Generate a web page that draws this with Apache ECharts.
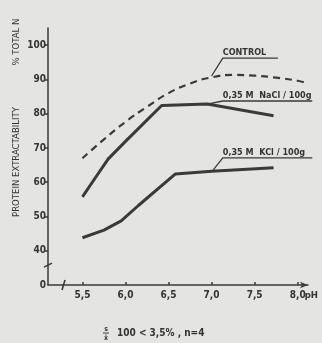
<!DOCTYPE html>
<html>
<head>
<meta charset="utf-8">
<script src="https://cdn.jsdelivr.net/npm/echarts@6/dist/echarts.min.js"></script>
<style>
  html, body { margin: 0; padding: 0; background: #e4e4e2; }
  #main { width: 322px; height: 343px; }
</style>
</head>
<body>
<div id="main"></div>
<script>
// values (pH, % total N)
var controlData = [[5.5, 67], [5.75, 72.5], [6.0, 77.6], [6.25, 82], [6.5, 86], [6.75, 88.8],
	[7.0, 90.6], [7.25, 91.3], [7.5, 91.1], [7.75, 90.5], [8.0, 89.6], [8.12, 88.8]];
var naclData = [[5.5, 55.7], [5.65, 61.3], [5.8, 66.8], [6.0, 71.9], [6.42, 82.4], [6.95, 82.8], [7.72, 79.4]];
var kclData = [[5.5, 43.8], [5.75, 46], [5.95, 48.7], [6.15, 53.2], [6.58, 62.4], [7.0, 63.2], [7.72, 64.2]];

var xTicks = [5.5, 6.0, 6.5, 7.0, 7.5, 8.0];
var yTicks = [40, 50, 60, 70, 80, 90, 100];
var yLabels = [30, 40, 50, 60, 70, 80, 90, 100];

var ink = '#3a3a3a';
var font = '"DejaVu Sans Condensed", "Liberation Sans Narrow", sans-serif';

var chart = echarts.init(document.getElementById('main'));

var option = {
	backgroundColor: '#e4e4e2',
	animation: false,
	grid: { left: 48, top: 28, width: 260, height: 257, containLabel: false },
	xAxis: {
		type: 'value',
		min: 5.1,
		max: 8.12,
		axisLine: { show: true, lineStyle: { color: ink, width: 1.5 }, symbol: ['none', 'arrow'], symbolSize: [5, 8] },
		axisTick: { show: true, inside: true, length: 3, customValues: xTicks, lineStyle: { color: ink, width: 1.5 } },
		axisLabel: {
			customValues: xTicks,
			margin: 5,
			color: '#333',
			fontFamily: font,
			fontWeight: 'bold',
			fontSize: 10,
			formatter: function(v) { return v.toFixed(1).replace('.', ','); }
		},
		splitLine: { show: false }
	},
	yAxis: {
		type: 'value',
		min: 30,
		max: 105,
		axisLine: { show: true, lineStyle: { color: ink, width: 1.5 } },
		axisTick: { show: true, length: 3, customValues: yTicks, lineStyle: { color: ink, width: 1.5 } },
		axisLabel: {
			customValues: yLabels,
			margin: 2,
			color: '#333',
			fontFamily: font,
			fontWeight: 'bold',
			fontSize: 10,
			formatter: function(v) { return v === 30 ? '0' : String(v); }
		},
		splitLine: { show: false }
	},
	series: [
		{
			type: 'line', name: 'CONTROL', data: controlData, smooth: true, symbol: 'none',
			lineStyle: { color: ink, width: 2.2, type: [7, 5] }
		},
		{
			type: 'line', name: 'NaCl', data: naclData, smooth: false, symbol: 'none',
			lineStyle: { color: ink, width: 3 }
		},
		{
			type: 'line', name: 'KCl', data: kclData, smooth: false, symbol: 'none',
			lineStyle: { color: ink, width: 3 }
		}
	]
};
chart.setOption(option);

function px(x, y) {
	return chart.convertToPixel({ gridIndex: 0 }, [x, y]);
}

function seg(points, w) {
	return {
		type: 'polyline',
		shape: { points: points },
		style: { stroke: ink, lineWidth: w || 1.3, fill: null }
	};
}

function label(text, p) {
	return {
		type: 'text',
		x: p[0], y: p[1],
		style: { text: text, fill: '#333', font: 'bold 9px ' + font, textAlign: 'left', textVerticalAlign: 'bottom' }
	};
}

var ctrlA = px(7.13, 96.2), ctrlB = px(7.77, 96.2), ctrlC = px(7.0, 91.0);
var naA = px(6.95, 82.8), naB = px(7.13, 83.7), naC = px(8.17, 83.7);
var kA = px(7.13, 67.1), kB = px(8.17, 67.1), kC = px(7.02, 63.6);
var yBreak = px(5.1, 35.8), xBreak = px(5.28, 30);
var phPos = px(8.0, 30);

var graphics = [
	seg([ctrlC, ctrlA, ctrlB]),
	label('CONTROL', [ctrlA[0], ctrlA[1] - 1]),
	seg([naA, naB, naC]),
	label('0,35 M  NaCl / 100g', [naB[0], naB[1] - 1]),
	seg([kC, kA, kB]),
	label('0,35 M  KCl / 100g', [kA[0], kA[1] - 1]),
	seg([[yBreak[0] - 4, yBreak[1] + 2], [yBreak[0] + 4, yBreak[1] - 2]], 1.6),
	seg([[xBreak[0] - 1.5, xBreak[1] + 5], [xBreak[0] + 1.5, xBreak[1] - 5]], 1.6),
	{
		type: 'text', x: phPos[0] + 7, y: phPos[1] + 11,
		style: { text: 'pH', fill: '#333', font: 'bold 9.5px ' + font, textAlign: 'left', textVerticalAlign: 'middle' }
	},
	{
		type: 'text', x: 17, y: 162, rotation: Math.PI / 2,
		style: { text: 'PROTEIN EXTRACTABILITY', fill: '#333', font: '9.5px ' + font, textAlign: 'center', textVerticalAlign: 'middle' }
	},
	{
		type: 'text', x: 17, y: 42, rotation: Math.PI / 2,
		style: { text: '% TOTAL N', fill: '#333', font: '9.5px ' + font, textAlign: 'center', textVerticalAlign: 'middle' }
	},
	// footnote: s / x̄ · 100 < 3,5 %, n=4
	{
		type: 'text', x: 106, y: 329,
		style: { text: 's', fill: '#333', font: 'bold 7px ' + font, textAlign: 'center', textVerticalAlign: 'middle' }
	},
	seg([[103, 333], [109, 333]], 1),
	{
		type: 'text', x: 106, y: 338,
		style: { text: 'x̄', fill: '#333', font: 'bold 7px ' + font, textAlign: 'center', textVerticalAlign: 'middle' }
	},
	{
		type: 'text', x: 117, y: 333,
		style: { text: '100 < 3,5% , n=4', fill: '#333', font: 'bold 10px ' + font, textAlign: 'left', textVerticalAlign: 'middle' }
	}
];

chart.setOption({ graphic: graphics });
</script>
</body>
</html>
